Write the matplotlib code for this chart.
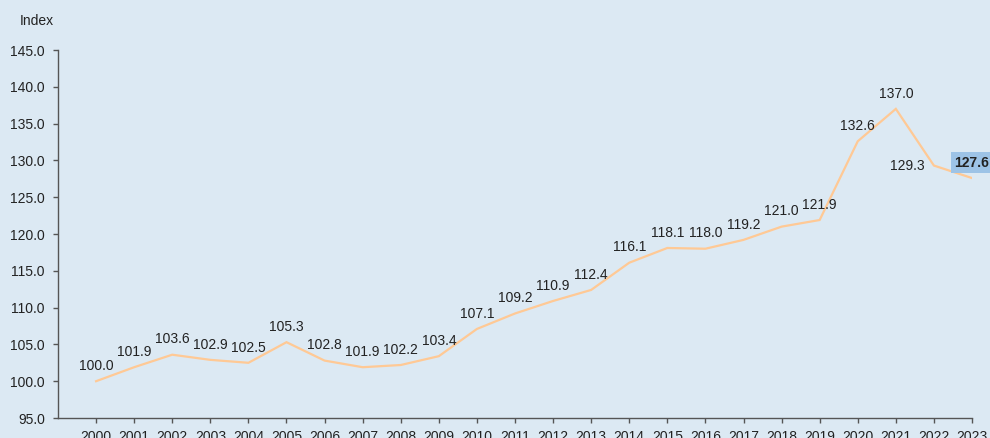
import matplotlib
matplotlib.use("Agg")
import matplotlib.pyplot as plt

years = [str(y) for y in range(2000, 2024)]
values = [100.0, 101.9, 103.6, 102.9, 102.5, 105.3, 102.8, 101.9, 102.2, 103.4,
          107.1, 109.2, 110.9, 112.4, 116.1, 118.1, 118.0, 119.2, 121.0, 121.9,
          132.6, 137.0, 129.3, 127.6]
yticks = [95, 100, 105, 110, 115, 120, 125, 130, 135, 140, 145]

plt.rcParams['font.family'] = ['Liberation Sans', 'DejaVu Sans']
bg = '#dce9f3'
fig = plt.figure(figsize=(9.9, 4.38), dpi=100, facecolor=bg)
ax = fig.add_axes([58/990, 1 - 418/438, (972-58)/990, (418-50)/438])
ax.set_facecolor(bg)

x = list(range(len(values)))
ax.plot(x, values, color='#ffc995', lw=1.6, solid_joinstyle='miter')

for i, v in enumerate(values):
    if i == len(values) - 1:
        ax.annotate(f'{v:.1f}', (i, v), xytext=(0, 11), textcoords='offset points',
                    ha='center', va='center', fontsize=10, fontweight='bold', color='#222222',
                    bbox=dict(boxstyle='square,pad=0.25', fc='#9dc3e6', ec='none'),
                    annotation_clip=False)
    elif i == len(values) - 2:
        ax.annotate(f'{v:.1f}', (i, v), xytext=(-7, 0), textcoords='offset points',
                    ha='right', va='center', fontsize=10, color='#222222')
    else:
        ax.annotate(f'{v:.1f}', (i, v), xytext=(0, 11), textcoords='offset points',
                    ha='center', va='center', fontsize=10, color='#222222')

ax.set_xlim(-1, len(values) - 1)
ax.set_ylim(95, 145)
ax.set_yticks(yticks)
ax.set_yticklabels([f'{t:.1f}' for t in yticks])
ax.set_xticks(x)
ax.set_xticklabels(years)
for s in ['top', 'right']:
    ax.spines[s].set_visible(False)
for s in ['left', 'bottom']:
    ax.spines[s].set_color('#555555')
    ax.spines[s].set_linewidth(1.0)
ax.tick_params(axis='y', length=3.5, width=1, color='#555555', pad=6, labelsize=10, labelcolor='#222222')
ax.tick_params(axis='x', length=3.5, width=1, color='#555555', pad=5, labelsize=10, labelcolor='#222222')

fig.text(20/990, 1 - 21/438, 'Index', ha='left', va='center', fontsize=10, color='#222222')

fig.savefig('out.png', dpi=100, facecolor=bg)
